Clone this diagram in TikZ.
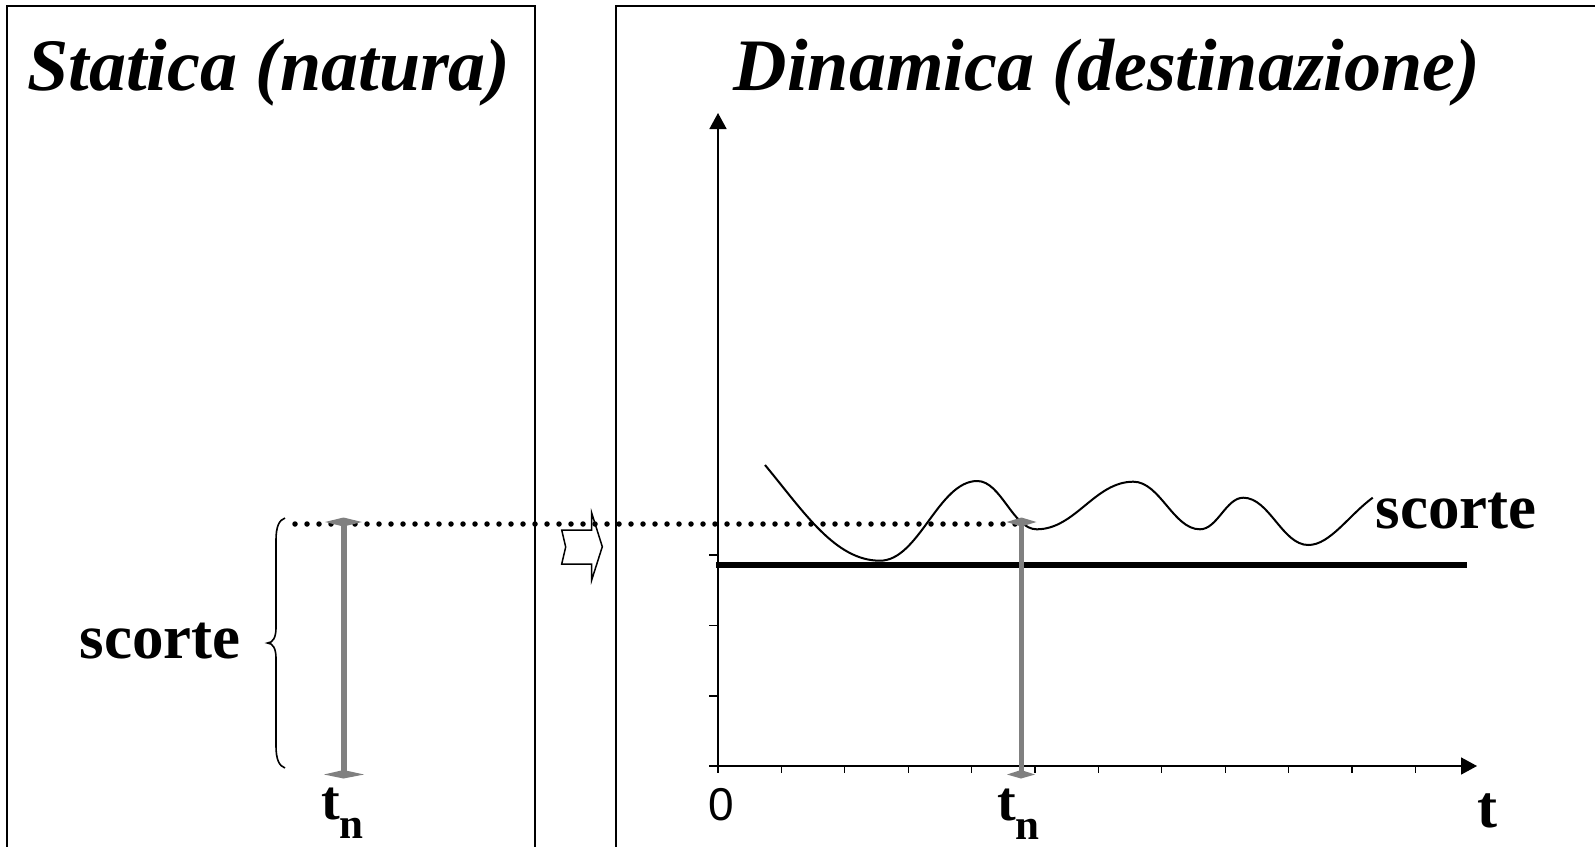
\documentclass[tikz,border=0pt]{standalone}
\usepackage{fontspec}
\setmainfont{Liberation Serif}
\newfontfamily\titlefont{Liberation Serif}
\newfontfamily\zerofont{Liberation Sans}
\usetikzlibrary{arrows.meta}
\definecolor{arrowgrey}{RGB}{128,128,128}
\begin{document}
\begin{tikzpicture}[x=1pt,y=-1pt,
  panel/.style={line width=1.5pt},
  axisline/.style={line width=1.6pt,-{Triangle[length=16pt,width=17pt]}},
  tickline/.style={line width=1.1pt},
  greyshaft/.style={draw=arrowgrey,line width=6pt},
  greyhead/.style={fill=arrowgrey},
  titletext/.style={font=\titlefont\bfseries\itshape\fontsize{74}{80}\selectfont,inner sep=0pt,anchor=base},
  lbl/.style={font=\bfseries\fontsize{63}{66}\selectfont,inner sep=0pt,anchor=base},
  tlbl/.style={font=\bfseries\fontsize{56}{58}\selectfont,inner sep=0pt,anchor=base west},
  curve/.style={line width=2pt},
  level/.style={line width=5.5pt},
  dots/.style={line width=5.5pt,line cap=round,dash pattern=on 0pt off 12pt},
  bracestyle/.style={line width=1.6pt},
  bigarrow/.style={draw,fill=white,line width=1.5pt,line join=miter}]
\useasboundingbox (0,0) rectangle (1595,846);
\clip (0,0) rectangle (1595,846);
\fill[white] (0,0) rectangle (1595,846);
% panels
\draw[panel] (7,870) -- (7,6) -- (535,6) -- (535,870);
\draw[panel] (616,870) -- (616,6) -- (1620,6);
% titles
\node[titletext] (t1) at (269,90) {Statica (natura)};
\node[titletext] (t2) at (1107,90) {Dinamica (destinazione)};
% axes
\coordinate (o) at (718,766);
\coordinate (ytop) at (718,113);
\coordinate (xstart) at (709,766);
\coordinate (xend) at (1477,766);
\draw[axisline] (o) -- (ytop);
\draw[axisline] (xstart) -- (xend);
\foreach \k in {0,...,11} \draw[tickline] (718+63.4*\k,766) -- (718+63.4*\k,773);
\foreach \yy in {555,625.5,696} \draw[tickline] (709,\yy) -- (718,\yy);
% level line
\coordinate (lvA) at (716,565);
\coordinate (lvB) at (1467,565);
\draw[level] (lvA) -- (lvB);
% stock curve
\draw[curve] (765,465) .. controls (803.4,511.2) and (835,560.7) .. (880,560.7)
  .. controls (919,560.7) and (938.3,481) .. (977.3,481)
  .. controls (1001,481) and (1013,529.3) .. (1036.7,529.3)
  .. controls (1075.3,529.3) and (1094.7,481.7) .. (1133.3,481.7)
  .. controls (1160,481.7) and (1173.3,529.3) .. (1200,529.3)
  .. controls (1217.3,529.3) and (1226,497.7) .. (1243.3,497.7)
  .. controls (1269.3,497.7) and (1282.3,545) .. (1308.3,545)
  .. controls (1330,545) and (1348.5,515.5) .. (1372.7,497.7);
% notched arrow
\draw[bigarrow] (561.7,530) -- (591.7,530) -- (591.7,513) -- (602.3,546.7) -- (591.7,580) -- (591.7,564) -- (561.7,564) -- (565.7,547) -- cycle;
% dotted line
\coordinate (dA) at (295,524);
\coordinate (dB) at (1016,524);
\draw[dots] (dA) -- (dB);
% grey arrows
\coordinate (gLt) at (343.5,523);
\coordinate (gLb) at (343.5,772);
\draw[greyshaft] (gLt) -- (gLb);
\fill[greyhead] (343.5,517.5) -- (362,522) -- (343.5,526.5) -- (325,522) -- cycle;
\fill[greyhead] (343.5,770) -- (364,774.5) -- (343.5,778.5) -- (324,774.5) -- cycle;
\coordinate (gRt) at (1021.5,524);
\coordinate (gRb) at (1021.5,772);
\draw[greyshaft,line width=5.5pt] (gRt) -- (gRb);
\fill[greyhead] (1021.5,517.5) -- (1036.5,522) -- (1021.5,526.5) -- (1006.5,522) -- cycle;
\fill[greyhead] (1021,770) -- (1035,774.5) -- (1021,778.5) -- (1007,774.5) -- cycle;
% brace
\draw[bracestyle] (285,518) .. controls (279,520) and (276,527) .. (276,540) -- (276,628)
  .. controls (276,637) and (273,643) .. (267.5,643)
  .. controls (273,643) and (276,649) .. (276,658) -- (276,746)
  .. controls (276,759) and (279,766) .. (285,768);
% labels
\node[lbl] (sL) at (160,658) {scorte};
\node[lbl] (sR) at (1456,528) {scorte};
\node[tlbl] (tnL) at (321,819) {t\raisebox{-19pt}{\fontsize{43}{46}\selectfont n}};
\node[tlbl] (tnR) at (997,820) {t\raisebox{-19pt}{\fontsize{43}{46}\selectfont n}};
\node[tlbl,font=\bfseries\fontsize{60}{62}\selectfont] (tax) at (1477,827) {t};
\node[font=\zerofont\fontsize{46}{50}\selectfont,inner sep=0pt,anchor=base] (zero) at (721,820) {0};
\end{tikzpicture}
\end{document}
